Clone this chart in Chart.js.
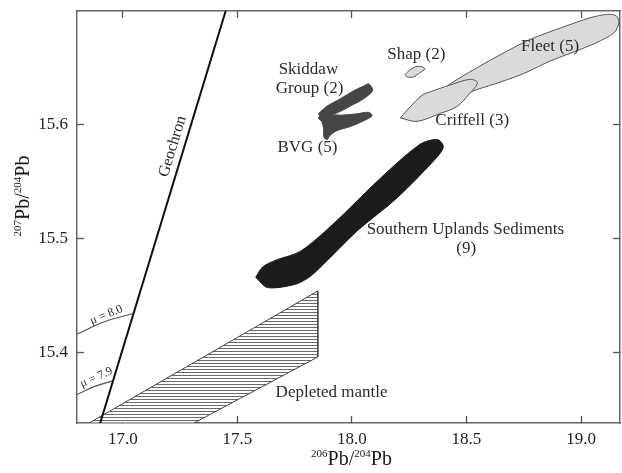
<!DOCTYPE html>
<html>
<head>
<meta charset="utf-8">
<script src="https://cdn.jsdelivr.net/npm/chart.js@4.4.1/dist/chart.umd.min.js"></script>
<style>
  html, body { margin: 0; padding: 0; background: #fff; }
  #wrap { width: 622px; height: 473px; position: relative; }
</style>
</head>
<body>
<div id="wrap"><canvas id="leadChart"></canvas></div>
<script>
// axis ranges and ticks (206Pb/204Pb on x, 207Pb/204Pb on y)
var xMin = 16.8, xMax = 19.17;
var yMin = 15.338, yMax = 15.7;
var xTicks = [17.0, 17.5, 18.0, 18.5, 19.0];
var yTicks = [15.4, 15.5, 15.6];

// reference lines
var geochron = [[16.874, 15.32], [17.464, 15.71]];
var mu80 = [[16.8, 15.416], [16.919, 15.427], [17.042, 15.434]];
var mu79 = [[16.8, 15.363], [16.875, 15.370], [16.955, 15.375]];

// field outlines, [206Pb/204Pb, 207Pb/204Pb]
var depletedMantle = [[16.853, 15.338], [17.851, 15.454], [17.851, 15.396], [17.311, 15.338], [16.853, 15.338]];
var southernUplands = [
  [17.580, 15.466], [17.610, 15.475], [17.667, 15.481], [17.776, 15.489], [17.919, 15.513],
  [18.124, 15.553], [18.298, 15.583], [18.373, 15.587], [18.399, 15.581], [18.373, 15.572],
  [18.198, 15.536], [18.024, 15.507], [17.893, 15.481], [17.819, 15.467], [17.754, 15.460],
  [17.632, 15.457], [17.580, 15.466]
];
var skiddaw = [
  [17.855, 15.610], [17.892, 15.6165], [17.950, 15.623], [18.008, 15.630], [18.051, 15.634],
  [18.073, 15.636], [18.090, 15.630], [18.044, 15.622], [17.993, 15.6165], [17.936, 15.6105],
  [17.899, 15.608], [17.863, 15.606], [17.855, 15.610]
];
var bvg = [
  [17.871, 15.609], [17.899, 15.609], [17.950, 15.6085], [18.015, 15.6095], [18.073, 15.611],
  [18.088, 15.608], [18.051, 15.6035], [17.993, 15.5985], [17.936, 15.595], [17.906, 15.591],
  [17.892, 15.587], [17.878, 15.589], [17.876, 15.597], [17.868, 15.603], [17.853, 15.606],
  [17.871, 15.609]
];
var shap = [
  [18.231, 15.644], [18.242, 15.642], [18.268, 15.642], [18.298, 15.646], [18.318, 15.649],
  [18.307, 15.651], [18.277, 15.651], [18.246, 15.647], [18.231, 15.644]
];
var criffell = [
  [18.211, 15.606], [18.284, 15.603], [18.386, 15.610], [18.458, 15.616], [18.516, 15.628],
  [18.548, 15.637], [18.516, 15.640], [18.429, 15.635], [18.342, 15.629], [18.306, 15.626],
  [18.255, 15.616], [18.211, 15.606]
];
var fleet = [
  [18.386, 15.628], [18.415, 15.634], [18.502, 15.645], [18.633, 15.660], [18.778, 15.675],
  [18.923, 15.686], [19.039, 15.694], [19.112, 15.697], [19.152, 15.696], [19.165, 15.690],
  [19.145, 15.681], [19.065, 15.672], [18.981, 15.665], [18.865, 15.656], [18.749, 15.645],
  [18.625, 15.636], [18.546, 15.631], [18.473, 15.625], [18.420, 15.623], [18.386, 15.628]
];

// text notes placed in data coordinates
var notes = [
  { text: 'Skiddaw', x: 17.810, y: 15.649 },
  { text: 'Group (2)', x: 17.815, y: 15.632 },
  { text: 'BVG (5)', x: 17.806, y: 15.580 },
  { text: 'Shap (2)', x: 18.281, y: 15.662 },
  { text: 'Fleet (5)', x: 18.865, y: 15.669 },
  { text: 'Criffell (3)', x: 18.525, y: 15.604 },
  { text: 'Southern Uplands Sediments', x: 18.495, y: 15.508 },
  { text: '(9)', x: 18.499, y: 15.491 },
  { text: 'Depleted mantle', x: 17.911, y: 15.365 },
  { text: 'Geochron', x: 17.218, y: 15.581, angle: -73, size: 16 },
  { text: 'μ = 8.0', x: 16.928, y: 15.433, angle: -22, size: 12 },
  { text: 'μ = 7.9', x: 16.884, y: 15.378, angle: -24, size: 12 }
];

function pts(arr) {
  return arr.map(function (p) { return { x: p[0], y: p[1] }; });
}

// horizontal hatching for the depleted mantle field
function hatchPattern() {
  var c = document.createElement('canvas');
  c.width = 8; c.height = 3;
  var g = c.getContext('2d');
  g.fillStyle = '#fff';
  g.fillRect(0, 0, 8, 3);
  g.fillStyle = '#6a6a6a';
  g.fillRect(0, 0, 8, 1);
  return document.getElementById('leadChart').getContext('2d').createPattern(c, 'repeat');
}

function shape(data, fillCol, lineCol, lw) {
  return {
    data: pts(data), showLine: true, fill: 'shape', tension: 0.3,
    backgroundColor: fillCol, borderColor: lineCol, borderWidth: lw, pointRadius: 0
  };
}

function line(data, col, lw, tension) {
  return {
    data: pts(data), showLine: true, fill: false, tension: tension,
    borderColor: col, borderWidth: lw, pointRadius: 0
  };
}

var serif = '"Liberation Serif", "Times New Roman", serif';

// draws text like 206Pb/204Pb with raised mass numbers
function drawIsotope(ctx, parts, cx, baseY) {
  var total = 0;
  parts.forEach(function (p) {
    ctx.font = (p.sup ? 11 : 20) + 'px ' + serif;
    total += ctx.measureText(p.t).width;
  });
  var x = cx - total / 2;
  ctx.textAlign = 'left';
  ctx.textBaseline = 'alphabetic';
  parts.forEach(function (p) {
    ctx.font = (p.sup ? 11 : 20) + 'px ' + serif;
    ctx.fillText(p.t, x, p.sup ? baseY - 8 : baseY);
    x += ctx.measureText(p.t).width;
  });
}

var notePlugin = {
  id: 'notes',
  afterDatasetsDraw: function (chart) {
    var ctx = chart.ctx, xs = chart.scales.x, ys = chart.scales.y, area = chart.chartArea;
    ctx.save();
    ctx.fillStyle = '#2b2b2b';
    notes.forEach(function (n) {
      ctx.save();
      ctx.translate(xs.getPixelForValue(n.x), ys.getPixelForValue(n.y));
      ctx.rotate((n.angle || 0) * Math.PI / 180);
      ctx.font = (n.size || 17) + 'px ' + serif;
      ctx.textAlign = 'center';
      ctx.textBaseline = 'middle';
      ctx.fillText(n.text, 0, 0);
      ctx.restore();
    });

    ctx.fillStyle = '#1a1a1a';
    drawIsotope(ctx, [{ t: '206', sup: true }, { t: 'Pb/' }, { t: '204', sup: true }, { t: 'Pb' }],
      (area.left + area.right) / 2 + 3, area.bottom + 42);
    ctx.save();
    ctx.translate(29, (area.top + area.bottom) / 2 - 21);
    ctx.rotate(-Math.PI / 2);
    drawIsotope(ctx, [{ t: '207', sup: true }, { t: 'Pb/' }, { t: '204', sup: true }, { t: 'Pb' }], 0, 0);
    ctx.restore();
    ctx.restore();
  }
};

function axis(pos, min, max, tickVals, showLabels, size) {
  var horiz = pos === 'top' || pos === 'bottom';
  return {
    type: 'linear', position: pos, min: min, max: max,
    afterBuildTicks: function (s) { s.ticks = tickVals.map(function (v) { return { value: v }; }); },
    afterFit: function (s) {
      if (horiz) { s.height = size; } else { s.width = size; }
      s.paddingTop = 0; s.paddingBottom = 0; s.paddingLeft = 0; s.paddingRight = 0;
    },
    grid: { drawOnChartArea: false, drawTicks: true, tickLength: -7, tickColor: '#555', tickWidth: 1.3 },
    border: { display: true, color: '#666', width: 1.5 },
    ticks: {
      display: showLabels, color: '#222', padding: horiz ? 13 : 16,
      font: { family: serif, size: 17 },
      callback: function (v) { return Number(v).toFixed(1); }
    }
  };
}

new Chart(document.getElementById('leadChart'), {
  type: 'scatter',
  data: {
    datasets: [
      line(geochron, '#111', 2, 0),
      line(mu80, '#555', 1.2, 0.4),
      line(mu79, '#555', 1.2, 0.4),
      shape(southernUplands, '#1c1c1c', '#1c1c1c', 1),
      shape(skiddaw, '#464646', '#464646', 1),
      shape(bvg, '#464646', '#464646', 1),
      shape(shap, '#dadada', '#555', 1),
      shape(criffell, '#dadada', '#555', 1),
      shape(fleet, '#dadada', '#555', 1),
      {
        data: pts(depletedMantle), showLine: true, fill: 'shape', tension: 0,
        backgroundColor: hatchPattern(), borderColor: '#444', borderWidth: 1, pointRadius: 0
      }
    ]
  },
  options: {
    responsive: true,
    maintainAspectRatio: false,
    animation: false,
    events: [],
    layout: { padding: 0 },
    plugins: { legend: { display: false }, tooltip: { enabled: false } },
    scales: {
      x: axis('bottom', xMin, xMax, xTicks, true, 50),
      x2: axis('top', xMin, xMax, xTicks, false, 11),
      y: axis('left', yMin, yMax, yTicks, true, 77),
      y2: axis('right', yMin, yMax, yTicks, false, 2)
    }
  },
  plugins: [notePlugin]
});
</script>
</body>
</html>
